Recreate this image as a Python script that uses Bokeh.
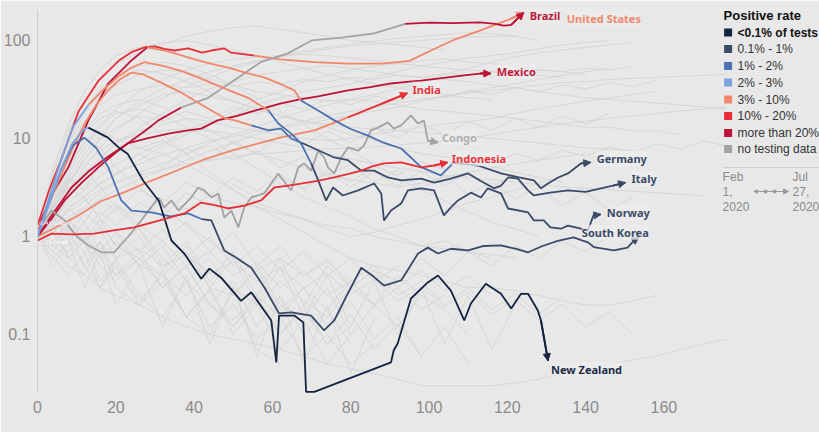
from bokeh.plotting import figure
from bokeh.models import Range1d, FixedTicker, Label, Arrow, NormalHead, LinearScale
from bokeh.embed import file_html
from bokeh.resources import INLINE

# ---------------- categories ----------------
CATS = ["<0.1% of tests", "0.1% - 1%", "1% - 2%", "2% - 3%", "3% - 10%",
        "10% - 20%", "more than 20%", "no testing data"]
CAT_COLORS = ["#14233f", "#3b4a68", "#4a72b0", "#7aa3e0", "#f2866a",
              "#e62f36", "#bd1237", "#a3a3a3"]
COL = dict(zip(CATS, CAT_COLORS))
X_TICKS = [0, 20, 40, 60, 80, 100, 120, 140, 160]
Y_TICKS = [0.1, 1, 10, 100]
Y_TICK_LABELS = ["0.1", "1", "10", "100"]

# ---------------- highlighted countries ----------------
us_days = [0, 3, 6, 10.5, 15.6, 20.7, 24, 27.3, 30, 32.4, 35, 38.5, 42, 44.4, 47.7, 49.5, 55.4, 62, 70.7, 79.3, 88, 95, 100.5, 106, 113, 118, 121, 124.2]
us_vals = [1.3, 3, 6, 19, 39, 62, 76, 85, 87, 82, 79, 83, 75, 79, 83, 75, 70, 64, 60, 58, 58, 62, 79, 100, 126, 150, 167, 193]
us_breaks = [(0, "10% - 20%"), (16, "3% - 10%")]

brazil_days = [0, 3.5, 6.9, 11.2, 15.6, 20, 24, 27.5, 30.9, 36.7, 43.6, 51.3, 57, 64, 70, 77.6, 86, 93.9, 100, 106, 113, 117, 119, 121, 124.2]
brazil_vals = [1.0, 1.5, 2.33, 3.5, 5.1, 7.2, 9.5, 12, 15.3, 20.7, 26, 42, 60, 74, 100, 107, 118, 148, 152, 150, 153, 148, 142, 144, 193]
brazil_breaks = [(0, "more than 20%"), (9, "no testing data"), (17, "more than 20%")]

mexico_days = [0, 3.6, 8.7, 13, 18, 23, 28, 33.4, 38, 41.8, 46, 51, 56, 62, 67, 72, 79.3, 85, 90.3, 95, 98, 104.8, 109, 113, 115.8]
mexico_vals = [1.0, 1.64, 3.16, 4.6, 6.5, 8.9, 10, 11.2, 12, 12.6, 15.3, 17, 19.5, 22.7, 25, 27, 31, 33.5, 36.4, 38, 39, 42, 44, 46, 46]
mexico_breaks = [(0, "more than 20%")]

india_days = [0, 4, 10, 16.3, 22, 29, 35, 42, 50, 56, 62, 70.7, 79.3, 88, 94.5]
india_vals = [1.0, 1.2, 1.6, 2.3, 2.8, 3.7, 4.6, 6, 7.6, 8.8, 10.2, 12.1, 16.4, 22.7, 29]
india_breaks = [(0, "3% - 10%"), (12, "10% - 20%")]

indonesia_days = [0, 3.6, 9, 14.5, 19, 24.7, 31, 37.5, 41.8, 45, 48.7, 52.8, 57.1, 60.5, 64, 67.3, 71.5, 75.8, 79, 82.7, 85.5, 88.5, 92.9, 98, 101.3, 104.8]
indonesia_vals = [0.91, 1.07, 1.05, 1.07, 1.15, 1.24, 1.45, 1.72, 2.22, 2.1, 1.93, 2.07, 2.33, 3.16, 3.3, 3.47, 3.7, 4.0, 4.3, 4.7, 5.2, 5.56, 5.7, 5.07, 5.3, 5.7]
indonesia_breaks = [(0, "10% - 20%")]

congo_days = [0, 3.6, 6.9, 10, 13, 16.3, 19.6, 23.2, 26.5, 29, 30.9, 32.4, 34.2, 36, 39.3, 41, 42.6, 44.4, 46.2, 47.7, 49.5, 51.3, 52.8, 54.6, 57.9, 61.5, 62.2, 64.8, 66.6, 68.1, 69.9, 71.7, 73.2, 74.2, 75.8, 77.6, 79.3, 81.9, 83.4, 85.2, 87, 89.5, 91, 92.9, 95.4, 97.2, 98.7, 99.7, 102.3]
congo_vals = [1.15, 1.84, 1.46, 1.0, 0.81, 0.69, 0.69, 1.0, 1.46, 1.98, 2.5, 1.98, 2.33, 1.84, 2.5, 3.16, 2.95, 2.5, 2.75, 1.56, 1.84, 1.24, 1.98, 2.5, 2.75, 4.4, 4.0, 2.95, 5.07, 5.56, 4.7, 7.5, 6.4, 5.07, 4.4, 6.4, 8.1, 7.5, 8.5, 12.1, 12.9, 14.6, 12.6, 13.6, 17.2, 14.2, 15.3, 9.5, 9.1]
congo_breaks = [(0, "no testing data")]

germany_days = [0, 1, 4, 7.9, 13, 18, 24, 28, 32.4, 37, 41, 45, 49.5, 53, 57.9, 62, 65.6, 67.3, 72, 75.8, 80, 84.4, 88, 92.9, 98, 103, 106.2, 112.5, 118.4, 123, 126.8, 128.6, 130.4, 133, 135.5, 138.8, 141.3]
germany_vals = [1.0, 1.5, 2.8, 5.1, 15.3, 36, 62.5, 85, 79, 70, 62.5, 57, 52, 47, 42, 36, 31, 24.4, 19, 15.3, 12.5, 10.7, 9.2, 7.9, 5.1, 4.2, 5.6, 5.3, 4.4, 4.0, 3.73, 3.1, 3.47, 4.0, 4.4, 5.56, 5.7]
germany_breaks = [(0, "more than 20%"), (7, "3% - 10%"), (17, "1% - 2%"), (26, "0.1% - 1%")]

italy_days = [0, 3, 6, 9, 12, 15, 18, 21, 24, 27, 31, 37, 42, 48, 50.4, 54.6, 59, 62.2, 64.8, 67.3, 70.7, 75.8, 79.3, 82.7, 86, 89.5, 92.9, 98, 101.3, 105.6, 110, 113, 116.6, 118.4, 120.2, 122.7, 125.3, 126.8, 131, 135.5, 140, 143.9, 147, 150.2]
italy_vals = [1.1, 2.2, 4.2, 8, 14, 22, 31, 40, 47, 45, 38, 29, 22, 16, 15.3, 13.6, 12.1, 12.6, 10, 9.1, 7.9, 6.4, 6.0, 4.7, 4.7, 4.0, 3.73, 3.9, 3.55, 3.9, 4.4, 3.73, 3.1, 3.3, 4.0, 3.9, 2.95, 2.62, 2.8, 2.95, 2.85, 3.1, 3.3, 3.55]
italy_breaks = [(0, "3% - 10%"), (15, "1% - 2%"), (19, "0.1% - 1%")]

norway_days = [0, 3, 6, 9, 13, 17, 21, 24, 27.3, 32, 36.7, 41, 45, 49, 53.8, 59, 61.5, 64.8, 67.3, 69.9, 71.7, 73.7, 75.5, 78, 81.9, 86, 87.8, 88.5, 90.3, 92.9, 94.6, 98, 101.3, 103.8, 105.6, 107.4, 110.7, 113.3, 115, 118.4, 120.2, 125.3, 126.8, 129.3, 131, 133.7, 135.5, 138.8, 140.6, 142, 143.9]
norway_vals = [1.0, 2.5, 6, 13, 22, 32, 44, 53, 60, 55, 49, 42, 36, 31, 26, 19.3, 14.2, 11.2, 8.9, 5.56, 3.73, 2.33, 3.16, 2.62, 2.95, 3.47, 2.75, 1.46, 1.84, 2.17, 2.95, 3.1, 2.95, 1.64, 1.98, 2.33, 2.8, 2.5, 3.1, 2.75, 1.93, 1.76, 1.46, 1.46, 1.24, 1.2, 1.29, 1.2, 1.15, 1.64, 1.68]
norway_breaks = [(0, "2% - 3%"), (4, "3% - 10%"), (15, "1% - 2%"), (19, "0.1% - 1%")]

korea_days = [0, 3, 6, 9, 12, 15, 18.1, 21.4, 24, 29, 34, 38.5, 42, 44.4, 47.7, 51, 54.6, 58, 61.7, 64.8, 69.9, 73.2, 75.8, 79, 82.7, 85.5, 88.5, 92.9, 97.2, 99.7, 102.3, 105.6, 110, 114, 118.4, 122, 125.3, 129, 132.9, 136.9, 140.6, 142.1, 147.2, 150.7, 152.3, 153.6]
korea_vals = [1.0, 2.2, 4.8, 8.5, 10.2, 8.0, 5.07, 2.33, 1.84, 1.76, 1.6, 1.72, 1.5, 1.46, 0.72, 0.6, 0.48, 0.3, 0.164, 0.168, 0.156, 0.11, 0.139, 0.25, 0.48, 0.4, 0.316, 0.356, 0.67, 0.77, 0.67, 0.75, 0.72, 0.8, 0.81, 0.75, 0.69, 0.8, 0.9, 0.98, 0.87, 0.78, 0.72, 0.77, 0.9, 0.98]
korea_breaks = [(0, "1% - 2%"), (12, "0.1% - 1%")]

nz_days = [0, 3, 6, 9, 12, 13, 18, 20.7, 23, 27, 31, 32.5, 34.2, 37.5, 41.8, 43.9, 46.9, 52, 54.6, 59.7, 61, 61.7, 65.6, 67.9, 68.6, 70.7, 90.3, 91, 92, 95.4, 99.7, 102.3, 105.6, 109, 110.7, 114.5, 118.4, 121, 123.5, 125.3, 127.8, 128.6, 130.4]
nz_vals = [1.0, 2.2, 4.8, 9, 12.5, 12.9, 10.2, 8.1, 7.0, 3.7, 2.3, 1.5, 0.91, 0.67, 0.37, 0.47, 0.38, 0.22, 0.27, 0.139, 0.052, 0.156, 0.156, 0.133, 0.026, 0.026, 0.052, 0.069, 0.081, 0.233, 0.34, 0.40, 0.28, 0.139, 0.207, 0.33, 0.26, 0.184, 0.26, 0.26, 0.176, 0.139, 0.054]
nz_breaks = [(0, "2% - 3%"), (5, "<0.1% of tests")]

# ---------------- background (other countries) ----------------
BG_DAYS = [0, 4, 8, 12, 16, 20, 26, 32, 38, 44, 50, 56, 62, 68, 74, 80, 86, 92, 98, 104, 110, 116, 122, 128, 134, 140, 146, 152, 158, 164, 170, 176]
g01 = [1, 1.5, 2.2, 3, 4.1, 5.5, 7, 9, 12, 15, 17, 22, 26, 30, 33, 36, 42, 48, 55, 60, 66, 70, 75, 82, 90, 95, 100]
g02 = [1, 2, 4, 7, 11, 16, 22, 28, 30, 27, 24, 20, 17, 15, 13, 11, 9.5, 8, 7, 6.5, 6, 5.2, 4.5, 4, 3.6]
g03 = [1, 1.2, 0.8, 1.1, 0.6, 0.9, 0.5, 0.4, 0.7, 0.3, 0.25, 0.5, 0.2, 0.15, 0.3, 0.1, 0.2]
g04 = [1, 3, 8, 15, 25, 35, 45, 50, 48, 40, 35, 30, 28, 26, 24, 25, 28, 32, 38, 45, 52, 60, 68, 75, 80, 85, 90, 95]
g05 = [1, 1.4, 2, 2.5, 3.5, 4.2, 6, 8.5, 11, 14, 19, 25, 30, 38, 44, 50, 55, 58, 62, 65, 60, 58, 55, 50, 48, 45]
g06 = [1, 0.7, 1.2, 0.5, 0.9, 0.4, 0.6, 0.3, 0.5, 0.2, 0.35, 0.12, 0.25, 0.1, 0.18, 0.08]
g07 = [1, 2.5, 5, 9, 14, 18, 20, 17, 13, 10, 7, 5, 3.5, 2.5, 2, 1.6, 1.2, 1, 0.8, 0.9, 0.7, 0.6]
g08 = [1, 1.8, 3.5, 6, 10, 16, 24, 32, 40, 48, 55, 62, 70, 78, 85, 92, 98, 105, 110, 115, 120, 118, 110, 100]
g09 = [1, 1.2, 1.6, 2, 2.8, 3.5, 4.5, 5.5, 7, 9, 11, 13, 16, 19, 22, 25, 24, 22, 20, 19, 18, 17, 16, 15, 14, 13, 13, 12, 12, 11]
g10 = [1, 0.8, 1.3, 0.9, 1.5, 1.1, 0.7, 1.2, 0.6, 1.0, 0.5, 0.8, 0.45, 0.7, 0.4, 0.6, 0.35, 0.5]
g11 = [1, 3, 7, 12, 18, 22, 25, 21, 16, 12, 9, 7, 6, 5, 4.2, 3.8, 3.5, 3.2, 3.5, 4, 4.5, 5, 5.5, 6, 6.5, 7]
g12 = [1, 1.5, 2.5, 4, 6, 9, 13, 18, 25, 32, 38, 44, 48, 52, 55, 52, 48, 44, 42, 40, 38, 35, 33, 30, 28, 26, 25, 24, 23, 22, 21, 20]
g13 = [1, 1.1, 0.6, 0.4, 0.9, 0.3, 0.2, 0.45, 0.15, 0.1, 0.3, 0.07, 0.05]
g14 = [1, 2, 3, 4.5, 6, 7.5, 8, 7, 5.5, 4, 3, 2.2, 1.8, 1.5, 1.2, 1.0, 1.1, 1.3, 1.5, 1.8, 2.2, 2.5, 3, 3.5, 4]
g15 = [1, 1.3, 1.9, 2.6, 3.4, 4.4, 5.5, 6.8, 8, 9.5, 10.5, 12, 13, 14, 15.5, 17, 19, 21, 24, 27, 30, 33, 36, 40, 44, 48, 52]
g16 = [1, 4, 10, 20, 32, 45, 55, 60, 55, 45, 35, 26, 19, 14, 10, 7.5, 5.5, 4, 3, 2.3, 1.8, 1.4, 1.2, 1.0]
g17 = [1, 0.6, 0.9, 0.5, 0.3, 0.6, 0.25, 0.15, 0.35, 0.12, 0.2, 0.09, 0.15, 0.06, 0.1, 0.05, 0.08]
g18 = [1, 1.6, 2.8, 4.2, 6.5, 9, 12, 14, 16, 15, 13, 12, 11, 10, 9.5, 10, 11, 12, 13, 14, 15, 16, 18, 20, 22, 24, 26, 28, 30]
g19 = [1, 2.2, 4.5, 8, 13, 20, 30, 40, 50, 58, 64, 68, 70, 72, 70, 66, 62, 58, 55, 52, 50, 48, 46, 44, 42]
g20 = [1, 1.4, 1.1, 1.7, 1.3, 2.0, 1.6, 2.4, 1.9, 2.6, 2.2, 2.0, 1.7, 1.5, 1.3, 1.2, 1.0, 0.9, 0.8, 0.75, 0.7, 0.65, 0.6]
g21 = [1, 2.8, 6, 11, 16, 19, 16, 11, 7, 4.5, 3, 2, 1.5, 1.1, 0.8, 0.6, 0.5, 0.45, 0.4, 0.35, 0.3, 0.3, 0.28, 0.25, 0.22, 0.2, 0.2, 0.22, 0.25]
g22 = [1, 1.2, 1.5, 1.9, 2.4, 3, 3.8, 4.8, 6, 7.5, 9, 11, 13, 15, 17, 19, 21, 23, 25, 27, 29, 31, 33, 35, 37, 38, 40, 41, 42, 43, 44, 45]
g23 = [1, 0.9, 0.7, 1.0, 0.6, 0.4, 0.7, 0.3, 0.5, 0.2, 0.14, 0.25, 0.1, 0.18, 0.08, 0.12]
g24 = [1, 3.5, 9, 18, 30, 42, 50, 46, 38, 30, 24, 20, 17, 15, 14, 13, 12.5, 12, 11.5, 11, 10.5, 10, 9.5, 9, 8.5, 8, 7.8, 7.5]
g25 = [1, 1.7, 3, 5, 8, 12, 18, 26, 34, 42, 52, 60, 68, 75, 82, 88, 92, 96, 100, 104, 108, 110, 112]
g26 = [1, 0.8, 0.6, 0.9, 0.5, 0.35, 0.6, 0.4, 0.25, 0.45, 0.3, 0.2, 0.35, 0.22, 0.15, 0.3, 0.2, 0.12, 0.25, 0.18, 0.1]
g27 = [1, 2, 3.5, 5.5, 7.5, 9.5, 11, 12, 12.5, 12, 11, 10, 9, 8, 7, 6.2, 5.5, 5, 4.6, 4.2, 4, 3.8, 3.6, 3.4, 3.2, 3.1, 3, 2.9, 2.8, 2.7, 2.6]
g28 = [1, 1.3, 1.8, 2.3, 3, 3.6, 4.2, 4.8, 5.5, 6, 6.5, 7, 7.2, 7.5, 7.8, 8, 8.2, 8.5, 9, 9.5, 10, 11, 12, 13, 14, 15, 16, 17, 18, 19, 20, 21]
g29 = [1, 5, 14, 30, 50, 70, 85, 95, 100, 90, 80, 70, 60, 52, 45, 40, 36, 33, 30, 28, 26, 25]
g30 = [1, 1.5, 1.2, 0.9, 1.3, 0.8, 0.6, 0.9, 0.5, 0.7, 0.4, 0.55, 0.3, 0.45, 0.25, 0.35, 0.2, 0.3, 0.18, 0.25]
g31 = [1, 0.7, 0.5, 0.4, 0.3, 0.25, 0.2, 0.15, 0.12, 0.1, 0.09, 0.08, 0.07, 0.06, 0.05, 0.045, 0.04, 0.035, 0.03, 0.03, 0.03, 0.03, 0.032, 0.035, 0.04, 0.045, 0.05, 0.055, 0.06, 0.07, 0.08, 0.09]
g32 = [1, 1.6, 0.9, 1.4, 0.7, 1.1, 0.5, 0.8, 0.35, 0.6, 0.25, 0.45, 0.18, 0.3, 0.12, 0.22, 0.09, 0.15, 0.06]
g33 = [1, 2.4, 4, 3, 5.5, 4.2, 7, 5, 8, 6, 9.5, 7, 11, 8.5, 12, 9, 13, 10, 14, 11, 15, 12, 16, 13, 17, 14, 18]
g34 = [1, 1.9, 3.2, 2.4, 1.6, 2.2, 1.3, 0.9, 1.4, 0.7, 1.1, 0.5, 0.8, 0.4, 0.6, 0.3, 0.45, 0.25, 0.35, 0.2, 0.3, 0.18, 0.26, 0.16, 0.24]
g35 = [1, 3.2, 7.5, 14, 22, 28, 32, 35, 33, 36, 34, 38, 36, 40, 38, 42, 40, 44, 42, 46, 44, 48, 46, 50, 48, 52, 50, 54]
g36 = [1, 0.9, 1.4, 1.1, 1.8, 1.3, 2.2, 1.6, 2.8, 2.0, 3.4, 2.5, 4.0, 3.0, 4.6, 3.6, 5.2, 4.2, 5.8, 4.8, 6.4, 5.4, 7, 6, 7.6, 6.6, 8.2, 7.2, 8.8, 7.8, 9.4, 8.4]
g37 = [1, 1.3, 0.6, 0.9, 0.35, 0.55, 0.22, 0.4, 0.15, 0.3, 0.1, 0.2, 0.07, 0.14, 0.05, 0.1]
g38 = [1, 2.6, 5.5, 9, 12, 10, 8, 9.5, 7, 8.5, 6, 7.5, 5, 6.5, 4.2, 5.5, 3.6, 4.8, 3.1, 4.2, 2.7, 3.6, 2.4, 3.2, 2.1, 2.8, 1.9, 2.5]
g39 = [1, 1.2, 1.9, 1.4, 2.4, 1.8, 3.0, 2.2, 3.6, 2.6, 4.0, 2.9, 4.3, 3.1, 4.5, 3.2, 4.6, 3.3, 4.6, 3.3, 4.5, 3.2, 4.4]
g40 = [1, 4.5, 12, 24, 40, 58, 75, 90, 110, 125, 135, 140, 130, 120, 110, 100, 95, 90, 85, 80]
g41 = [1, 0.8, 1.0, 0.7, 0.85, 0.6, 0.75, 0.5, 0.65, 0.42, 0.55, 0.35, 0.48, 0.3, 0.42, 0.26, 0.36, 0.22, 0.31, 0.19, 0.27, 0.16, 0.23, 0.14, 0.2, 0.12, 0.17, 0.1]
g42 = [1, 2.1, 3.6, 6.2, 9.8, 13, 17, 15, 19, 16, 21, 18, 23, 20, 25, 22, 27, 24, 29, 26, 31, 28, 33, 30, 35, 32, 37, 34, 39]
g43 = [1, 0.5, 0.9, 0.3, 0.7, 0.2, 0.5, 0.12, 0.4, 0.08, 0.3, 0.06, 0.25, 0.05, 0.2, 0.04, 0.15]
g44 = [1, 1.1, 1.5, 0.9, 1.2, 0.6, 1.0, 0.45, 0.8, 0.3, 0.6, 0.2, 0.5, 0.15, 0.4, 0.12, 0.35, 0.1, 0.3, 0.08, 0.25, 0.07, 0.2]
g45 = [1, 2.2, 3.8, 2.5, 1.5, 0.8, 1.2, 0.5, 0.9, 0.35, 0.7, 0.25, 0.6, 0.2, 0.5, 0.3, 0.45, 0.35, 0.6, 0.4, 0.7, 0.5, 0.8, 0.6, 0.9, 0.7, 1.0]
g46 = [1, 1.4, 2.5, 4.5, 3.2, 2.0, 1.2, 0.6, 0.35, 0.2, 0.12, 0.25, 0.15, 0.3, 0.18, 0.35, 0.2, 0.4, 0.25]
g47 = [1, 0.6, 0.4, 0.7, 0.3, 0.5, 0.2, 0.35, 0.15, 0.28, 0.12, 0.22, 0.1, 0.2, 0.08, 0.16, 0.07, 0.13, 0.06, 0.12, 0.05]
g48 = [1, 3, 6.5, 10, 8, 5, 3.2, 2, 1.3, 0.9, 0.6, 0.45, 0.6, 0.4, 0.55, 0.35, 0.5, 0.3, 0.45, 0.28, 0.4, 0.25]
BACKGROUND = [g01, g02, g03, g04, g05, g06, g07, g08, g09, g10, g11, g12, g13, g14, g15, g16,
              g17, g18, g19, g20, g21, g22, g23, g24, g25, g26, g27, g28, g29, g30, g31,
              g32, g33, g34, g35, g36, g37, g38, g39, g40, g41, g42, g43, g44, g45, g46,
              g47, g48]

# ---------------- labels ----------------
# (name, days, vals, breaks, label colour, x offset px, y offset px)
SERIES = [
    ("United States", us_days, us_vals, us_breaks, "#f0876a", 43, -6),
    ("Brazil", brazil_days, brazil_vals, brazil_breaks, "#b8183a", 6, -3),
    ("Mexico", mexico_days, mexico_vals, mexico_breaks, "#c0183c", 6, 2),
    ("India", india_days, india_vals, india_breaks, "#e8333b", 5, 4),
    ("Congo", congo_days, congo_vals, congo_breaks, "#b0b0b0", 4, 5),
    ("Germany", germany_days, germany_vals, germany_breaks, "#3b4a68", 6, 4),
    ("Italy", italy_days, italy_vals, italy_breaks, "#3b4a68", 6, 4),
    ("Norway", norway_days, norway_vals, norway_breaks, "#3b4a68", 6, 2),
    ("South Korea", korea_days, korea_vals, korea_breaks, "#3b4a68", -57, 5),
    ("New Zealand", nz_days, nz_vals, nz_breaks, "#1c2a48", 3, -9),
    ("Indonesia", indonesia_days, indonesia_vals, indonesia_breaks, "#e8333b", 4, 4),
]

BG = "#e8e8e8"
FONT = "Liberation Sans"
W, H = 819, 432

p = figure(width=W, height=H, y_axis_type="log",
           x_range=Range1d(0, (W - 36) / 3.92), y_range=Range1d(0.025, 207),
           output_backend="svg", toolbar_location=None,
           min_border_left=36, min_border_right=0, min_border_top=9, min_border_bottom=H - 393)
p.extra_x_ranges = {"px": Range1d(36, W)}
p.extra_y_ranges = {"py": Range1d(393, 9)}
p.extra_x_scales = {"px": LinearScale()}
p.extra_y_scales = {"py": LinearScale()}

p.background_fill_color = BG
p.border_fill_color = BG
p.outline_line_color = None
p.grid.grid_line_color = None

xa = p.xaxis[0]
xa.ticker = FixedTicker(ticks=X_TICKS)
xa.axis_line_color = None
xa.major_tick_line_color = None
xa.minor_tick_line_color = None
xa.major_label_text_font = FONT
xa.major_label_text_font_size = "16px"
xa.major_label_text_color = "#8c8c8c"
xa.major_label_standoff = 1

ya = p.yaxis[0]
ya.ticker = FixedTicker(ticks=Y_TICKS, minor_ticks=[])
ya.major_label_overrides = {t: s for t, s in zip(Y_TICKS, Y_TICK_LABELS)}
ya.axis_line_color = "#cfcfcf"
ya.major_tick_line_color = None
ya.minor_tick_line_color = None
ya.major_label_text_font = FONT
ya.major_label_text_font_size = "16px"
ya.major_label_text_color = "#8c8c8c"
ya.major_label_standoff = 1

# background country lines
for vals in BACKGROUND:
    p.line(BG_DAYS[:len(vals)], vals, line_color="#d3d3d3", line_width=1, line_alpha=0.85)

# highlighted countries, coloured by positive rate
for name, days, vals, breaks, lc, dx, dy in SERIES:
    for k, (i0, cat) in enumerate(breaks):
        i1 = breaks[k + 1][0] if k + 1 < len(breaks) else len(days) - 1
        p.line(days[i0:i1 + 1], vals[i0:i1 + 1], line_color=COL[cat], line_width=1.8)
    last_cat = breaks[-1][1]
    p.add_layout(Arrow(end=NormalHead(size=7, fill_color=COL[last_cat], line_color=COL[last_cat]),
                       x_start=days[-2], y_start=vals[-2], x_end=days[-1], y_end=vals[-1],
                       line_color=COL[last_cat], line_width=1.8))

for name, days, vals, breaks, lc, dx, dy in SERIES:
    p.add_layout(Label(x=days[-1], y=vals[-1], x_offset=dx, y_offset=dy, text=name,
                       text_font="Noto Sans", text_font_style="bold", text_font_size="11px",
                       text_color=lc, text_baseline="middle",
                       background_fill_color="#eeeeee", background_fill_alpha=0.75))

# small start annotations
for txt, yy in [("1.41 cases", 222), ("1.11 cases", 241)]:
    p.add_layout(Label(x=38, y=yy, x_range_name="px", y_range_name="py", text=txt,
                       text_font="Liberation Serif", text_font_size="7px", text_color="#ffffff",
                       text_baseline="middle"))

# x axis title
p.add_layout(Label(x=186, y=425, x_range_name="px", y_range_name="py",
                   text="Days since the total confirmed cases per million people reached 1",
                   text_font=FONT, text_font_size="11px", text_color="#3a3a3a",
                   text_baseline="middle"))

# ---------------- legend ----------------
LEG_ROWS = [32, 48.5, 65.5, 82, 99, 115.5, 132.5, 148.5]
p.add_layout(Label(x=723, y=15, x_range_name="px", y_range_name="py", text="Positive rate",
                   text_font=FONT, text_font_style="bold", text_font_size="13px",
                   text_color="#111111", text_baseline="middle"))
p.scatter([727.5] * len(CATS), LEG_ROWS, marker="square", size=8, fill_color=CAT_COLORS,
          line_color=None, x_range_name="px", y_range_name="py")
for i, (cat, yy) in enumerate(zip(CATS, LEG_ROWS)):
    p.add_layout(Label(x=737, y=yy, x_range_name="px", y_range_name="py", text=cat,
                       text_font=FONT, text_font_size="12px",
                       text_font_style="bold" if i == 0 else "normal",
                       text_color="#111111" if i == 0 else "#333333", text_baseline="middle"))
p.line([722, 819], [167, 167], line_color="#d0d0d0", line_width=1,
       x_range_name="px", y_range_name="py")
for txt, xx in [("Feb", 722), ("Jul", 792)]:
    p.add_layout(Label(x=xx, y=176, x_range_name="px", y_range_name="py", text=txt,
                       text_font=FONT, text_font_size="12px", text_color="#8a8a8a",
                       text_baseline="middle"))
for txt, xx in [("1,", 722), ("27,", 792)]:
    p.add_layout(Label(x=xx, y=191, x_range_name="px", y_range_name="py", text=txt,
                       text_font=FONT, text_font_size="12px", text_color="#8a8a8a",
                       text_baseline="middle"))
for xx in [722, 792]:
    p.add_layout(Label(x=xx, y=206, x_range_name="px", y_range_name="py", text="2020",
                       text_font=FONT, text_font_size="12px", text_color="#8a8a8a",
                       text_baseline="middle"))
p.add_layout(Arrow(end=NormalHead(size=5, fill_color="#999999", line_color="#999999"),
                   x_start=753, y_start=191, x_end=788, y_end=191, line_color="#999999",
                   line_width=1, x_range_name="px", y_range_name="py"))
p.scatter([756, 765, 774], [191, 191, 191], size=3, color="#999999",
          x_range_name="px", y_range_name="py")

open("out.html", "w").write(file_html(p, INLINE))
